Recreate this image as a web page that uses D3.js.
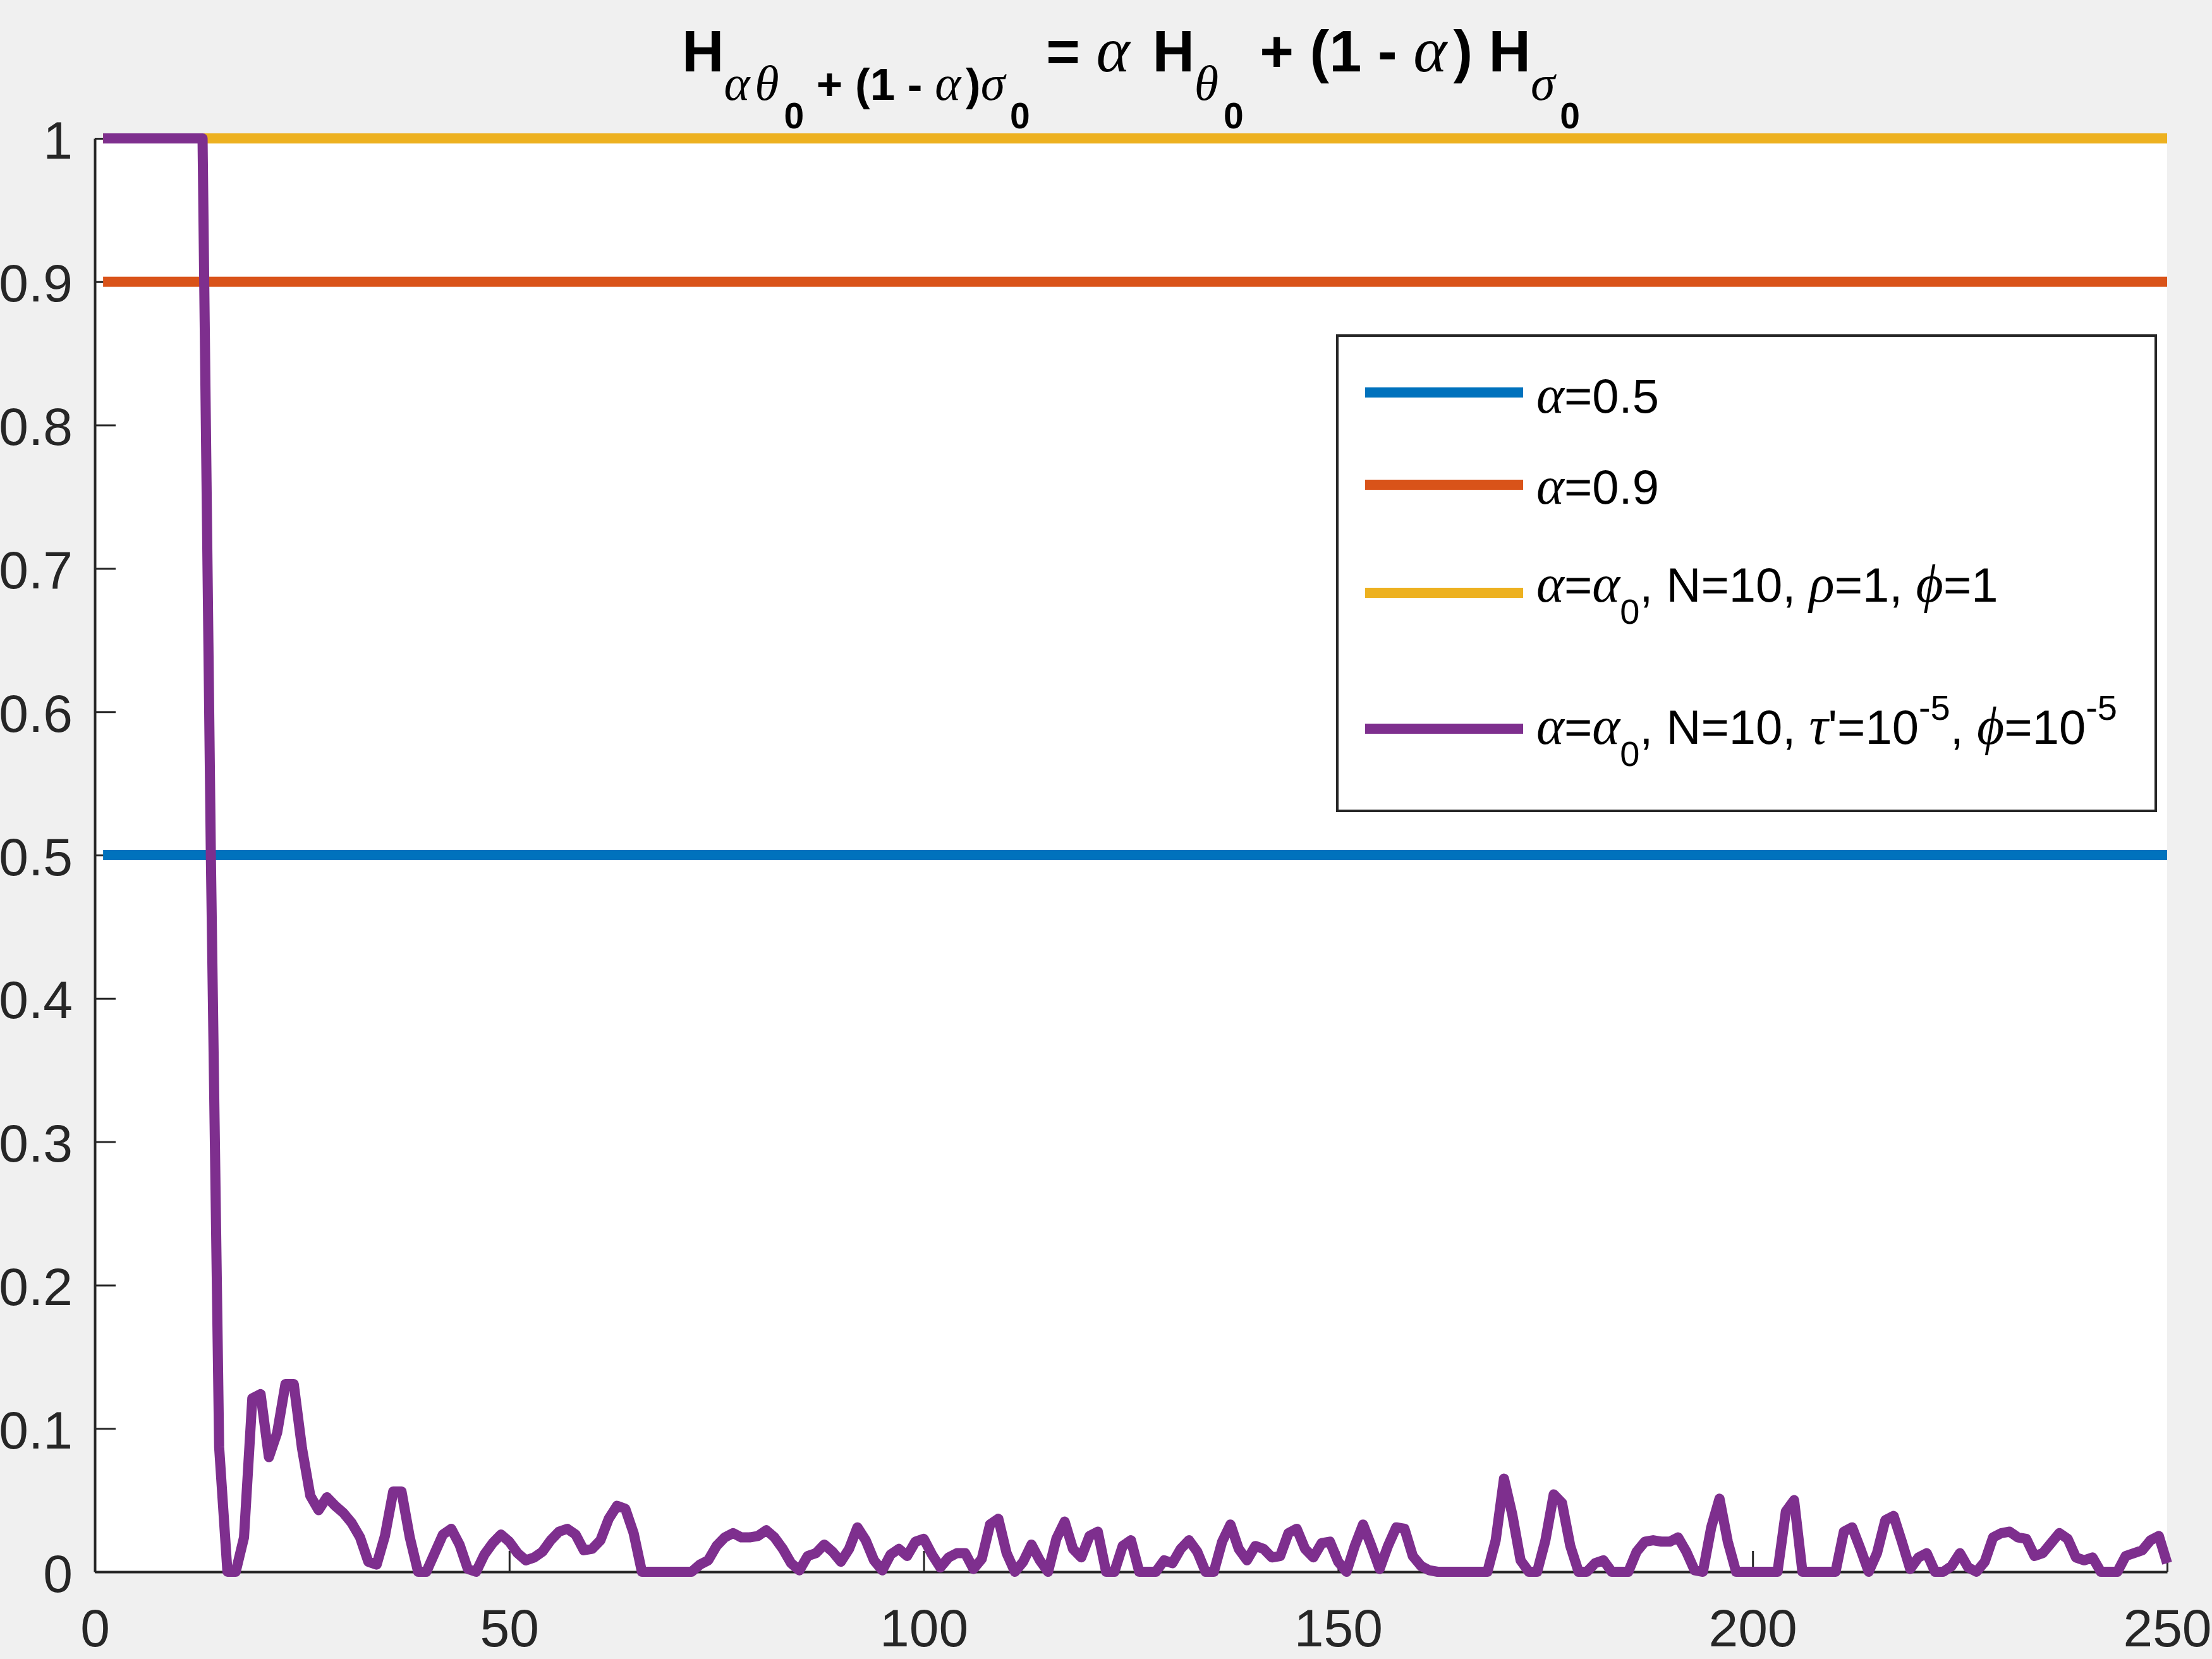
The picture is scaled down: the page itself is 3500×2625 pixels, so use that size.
<!DOCTYPE html>
<html>
<head>
<meta charset="utf-8">
<script src="https://cdn.jsdelivr.net/npm/d3@7"></script>
<style>
	html, body { margin: 0; padding: 0; background: #f0f0f0; }
	svg { display: block; }
	text { font-family: "Liberation Sans", Arial, Helvetica, sans-serif; }
	.greek { font-family: "Liberation Serif", "DejaVu Serif", serif; font-style: italic; font-weight: normal; }
</style>
</head>
<body>
<svg id="chart"></svg>
<script>
(function() {

// DATA

	var xTicks = [0, 50, 100, 150, 200, 250];
	var yTicks = [0, 0.1, 0.2, 0.3, 0.4, 0.5, 0.6, 0.7, 0.8, 0.9, 1];
	var xDomain = [0, 250];
	var yDomain = [0, 1];

	// constant series, drawn from x = 1 to x = 250
	var levelKeys = ["alpha05", "alpha09", "rho1"];
	var levelValues = [0.5, 0.9, 1];
	var levelSpan = [1, 250];

	// alpha = alpha_0, tau' = 1e-5, phi = 1e-5 (x = 1..250)
	var tauValues = [
		1, 1, 1, 1, 1, 1, 1, 1, 1, 1,
		1, 1, 1, 0.5, 0.087, 0, 0, 0.024, 0.121, 0.124,
		0.080, 0.097, 0.131, 0.131, 0.086, 0.053, 0.043, 0.052, 0.046, 0.041,
		0.034, 0.024, 0.007, 0.005, 0.025, 0.056, 0.056, 0.024, 0, 0,
		0.013, 0.026, 0.030, 0.019, 0.002, 0, 0.012, 0.020, 0.026, 0.021,
		0.013, 0.008, 0.010, 0.014, 0.022, 0.028, 0.030, 0.026, 0.015, 0.016,
		0.022, 0.037, 0.046, 0.044, 0.027, 0, 0, 0, 0, 0,
		0, 0, 0.005, 0.008, 0.018, 0.024, 0.027, 0.024, 0.024, 0.025,
		0.029, 0.024, 0.016, 0.006, 0.001, 0.011, 0.013, 0.019, 0.014, 0.007,
		0.016, 0.031, 0.022, 0.008, 0.001, 0.012, 0.016, 0.011, 0.021, 0.023,
		0.012, 0.003, 0.010, 0.013, 0.013, 0.002, 0.009, 0.033, 0.037, 0.013,
		0, 0.007, 0.019, 0.008, 0, 0.023, 0.035, 0.016, 0.010, 0.025,
		0.028, 0, 0, 0.018, 0.022, 0, 0, 0, 0.008, 0.006,
		0.016, 0.022, 0.014, 0, 0, 0.021, 0.033, 0.016, 0.008, 0.018,
		0.016, 0.010, 0.011, 0.027, 0.030, 0.016, 0.010, 0.020, 0.021, 0.007,
		0, 0.018, 0.033, 0.018, 0.002, 0.018, 0.031, 0.030, 0.011, 0.004,
		0.001, 0, 0, 0, 0, 0, 0, 0, 0.022, 0.065,
		0.040, 0.008, 0, 0, 0.022, 0.054, 0.048, 0.018, 0, 0,
		0.006, 0.008, 0, 0, 0, 0.014, 0.021, 0.022, 0.021, 0.021,
		0.024, 0.014, 0.001, 0, 0.031, 0.051, 0.021, 0, 0, 0,
		0, 0, 0, 0.042, 0.050, 0, 0, 0, 0, 0,
		0.028, 0.031, 0.016, 0, 0.013, 0.036, 0.039, 0.021, 0.002, 0.010,
		0.013, 0, 0, 0.004, 0.013, 0.003, 0, 0.007, 0.024, 0.027,
		0.028, 0.024, 0.023, 0.011, 0.013, 0.020, 0.027, 0.023, 0.010, 0.008,
		0.010, 0, 0, 0, 0.011, 0.013, 0.015, 0.022, 0.025, 0.006
	];

	// text pieces: [text, kind]  kind: t = plain, g = greek, sub, sup
	var legendLabels = [
		[["α", "g"], ["=0.5", "t"]],
		[["α", "g"], ["=0.9", "t"]],
		[["α", "g"], ["=", "t"], ["α", "g"], ["0", "sub"], [", N=10, ", "t"], ["ρ", "g"], ["=1, ", "t"], ["ϕ", "g"], ["=1", "t"]],
		[["α", "g"], ["=", "t"], ["α", "g"], ["0", "sub"], [", N=10, ", "t"], ["τ", "g"], ["'=10", "t"], ["-5", "sup"], [", ", "t"], ["ϕ", "g"], ["=10", "t"], ["-5", "sup"]]
	];

	// title pieces: [text, kind, level]  level 0 = main, 1 = subscript, 2 = sub-subscript
	var titlePieces = [
		["H", "t", 0], ["αθ", "g", 1], ["0", "t", 2],
		[" + (1 - ", "t", 1], ["α", "g", 1], [")", "t", 1], ["σ", "g", 1], ["0", "t", 2],
		[" = ", "t", 0], ["α", "g", 0], [" H", "t", 0], ["θ", "g", 1], ["0", "t", 2],
		[" + (1 - ", "t", 0], ["α", "g", 0], [") H", "t", 0], ["σ", "g", 1], ["0", "t", 2]
	];

// LAYOUT

	var width = 3500;
	var height = 2625;
	var margin = {left: 150, right: 71, top: 219, bottom: 138};
	var colors = ["#0072BD", "#D95319", "#EDB120", "#7E2F8E"];
	var axisColor = "#262626";
	var lineWidth = 16;
	var greekScale = 1.1;

	var svg = d3.select('#chart')
		.attr('width', width)
		.attr('height', height);

	var scales = {};

	function setupScales() {
		scales.x = d3.scaleLinear()
			.domain(xDomain)
			.range([margin.left, width - margin.right]);
		scales.y = d3.scaleLinear()
			.domain(yDomain)
			.range([height - margin.bottom, margin.top]);
	}

	function drawBackground() {
		svg.append('rect')
			.attr('width', width)
			.attr('height', height)
			.attr('fill', '#f0f0f0');
		svg.append('rect')
			.attr('x', scales.x(xDomain[0]))
			.attr('y', scales.y(yDomain[1]))
			.attr('width', scales.x(xDomain[1]) - scales.x(xDomain[0]))
			.attr('height', scales.y(yDomain[0]) - scales.y(yDomain[1]))
			.attr('fill', '#ffffff');
	}

	function drawAxes() {
		var xaxis = svg.append('g')
			.attr('class', 'axis axis--x')
			.attr('transform', 'translate(0,' + scales.y(0) + ')')
			.call(d3.axisBottom(scales.x)
				.tickValues(xTicks)
				.tickSizeInner(-33)
				.tickSizeOuter(0)
				.tickPadding(58)
				.tickFormat(d3.format('d')));

		var yaxis = svg.append('g')
			.attr('class', 'axis axis--y')
			.attr('transform', 'translate(' + scales.x(0) + ',0)')
			.call(d3.axisLeft(scales.y)
				.tickValues(yTicks)
				.tickSizeInner(-33)
				.tickSizeOuter(0)
				.tickPadding(35)
				.tickFormat(d3.format('~g')));

		svg.selectAll('.axis .domain')
			.attr('stroke', axisColor)
			.attr('stroke-width', 4);
		svg.selectAll('.axis .tick line')
			.attr('stroke', axisColor)
			.attr('stroke-width', 3);
		svg.selectAll('.axis .tick text')
			.attr('fill', axisColor)
			.attr('font-size', 84)
			.attr('font-family', '"Liberation Sans", Arial, sans-serif');
		yaxis.selectAll('.tick text').attr('dy', '0.37em');
	}

	function drawLines() {
		var line = d3.line()
			.x(function(d) { return scales.x(d[0]); })
			.y(function(d) { return scales.y(d[1]); });

		levelValues.forEach(function(v, i) {
			svg.append('path')
				.attr('class', 'level ' + levelKeys[i])
				.datum(levelSpan.map(function(x) { return [x, v]; }))
				.attr('d', line)
				.attr('fill', 'none')
				.attr('stroke', colors[i])
				.attr('stroke-width', lineWidth);
		});

		var tauData = tauValues.map(function(v, i) { return [i + 1, v]; });
		svg.append('path')
			.attr('class', 'tau')
			.datum(tauData)
			.attr('d', line)
			.attr('fill', 'none')
			.attr('stroke', colors[3])
			.attr('stroke-width', lineWidth)
			.attr('stroke-linejoin', 'round')
			.attr('stroke-linecap', 'butt');
	}

	// append pieces as tspans, shifting baseline for sub / sup
	function addPieces(text, pieces, sizes, shifts, greekSpacing) {
		var current = 0;
		pieces.forEach(function(p) {
			var level = p[2] !== undefined ? p[2] : (p[1] == 'sub' ? 1 : (p[1] == 'sup' ? 2 : 0));
			var shift = shifts[level];
			var size = p[1] == 'g' ? sizes[level] * greekScale : sizes[level];
			var ts = text.append('tspan')
				.text(p[0])
				.attr('font-size', size)
				.attr('dy', shift - current);
			if (p[1] == 'g') {
				ts.attr('class', 'greek');
				if (greekSpacing) ts.attr('letter-spacing', greekSpacing);
			}
			current = shift;
		});
	}

	function drawTitle() {
		var title = svg.append('text')
			.attr('x', (scales.x(xDomain[0]) + scales.x(xDomain[1])) / 2)
			.attr('y', 113)
			.attr('text-anchor', 'middle')
			.attr('font-weight', 'bold')
			.attr('fill', '#000')
			.style('white-space', 'pre');
		addPieces(title, titlePieces, [92, 71, 57], [0, 45, 90], '0.1em');
	}

	function drawLegend() {
		var box = {x: 2116, y: 531, w: 1295, h: 752};
		var rowY = [621, 767, 938, 1153];
		var baseY = [653, 797, 952, 1177];

		var g = svg.append('g').attr('class', 'legend');
		g.append('rect')
			.attr('x', box.x)
			.attr('y', box.y)
			.attr('width', box.w)
			.attr('height', box.h)
			.attr('fill', '#fff')
			.attr('stroke', axisColor)
			.attr('stroke-width', 4);

		legendLabels.forEach(function(pieces, i) {
			g.append('line')
				.attr('x1', 2160)
				.attr('x2', 2410)
				.attr('y1', rowY[i])
				.attr('y2', rowY[i])
				.attr('stroke', colors[i])
				.attr('stroke-width', lineWidth);

			var t = g.append('text')
				.attr('x', 2431)
				.attr('y', baseY[i])
				.attr('fill', '#000')
				.style('white-space', 'pre');
			addPieces(t, pieces, [76, 56, 56], [0, 35, -38]);
		});
	}

	function init() {
		setupScales();
		drawBackground();
		drawAxes();
		drawLines();
		drawLegend();
		drawTitle();
	}

	init();
})();
</script>
</body>
</html>
